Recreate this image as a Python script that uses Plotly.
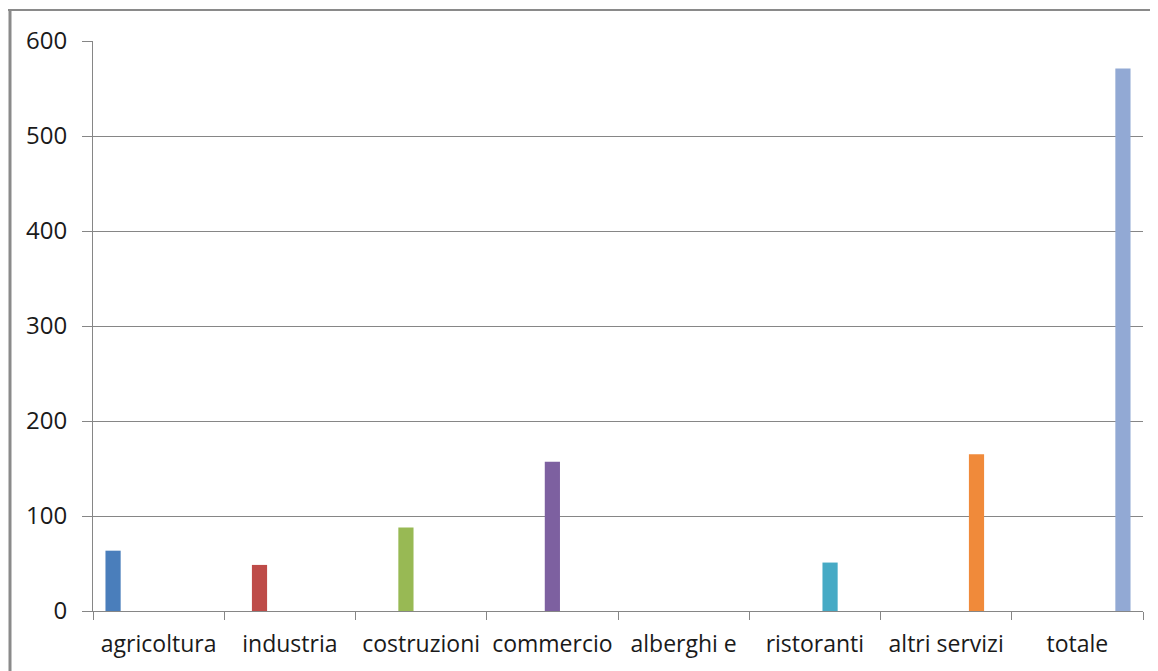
import plotly.graph_objects as go

categories = ["agricoltura", "industria", "costruzioni", "commercio",
              "alberghi e", "ristoranti", "altri servizi", "totale"]
series_names = ["agricoltura", "industria", "costruzioni", "commercio",
                "alberghi e ristoranti", "altri servizi", "totale"]
s_agricoltura = [63.5, None, None, None, None, None, None, None]
s_industria = [None, 48.5, None, None, None, None, None, None]
s_costruzioni = [None, None, 88, None, None, None, None, None]
s_commercio = [None, None, None, 157, None, None, None, None]
s_alberghi = [None, None, None, None, None, 51, None, None]
s_altri = [None, None, None, None, None, None, 165, None]
s_totale = [None, None, None, None, None, None, None, 571]
series_values = [s_agricoltura, s_industria, s_costruzioni, s_commercio,
                 s_alberghi, s_altri, s_totale]
colors = ["#4A7EBB", "#BE4B48", "#98B954", "#7D60A0", "#46AAC5", "#F08A3A", "#92A9D4"]
y_ticks = [0, 100, 200, 300, 400, 500, 600]

fig = go.Figure()
for name, vals, col in zip(series_names, series_values, colors):
    fig.add_trace(go.Bar(x=categories, y=vals, name=name, marker_color=col,
                         marker_line_width=0, showlegend=False))

# page body has an 8px margin; figure origin at (8, 8) in the window
OFF = 8
W, H = 1150, 663
L, R, T, B = 93 - OFF, 15, 41 - OFF, 60
pw, ph = W - L - R, H - T - B

def px(x):
    return (x - OFF - L) / pw

def py(y):
    return (H - B - (y - OFF)) / ph

fig.update_layout(
    width=W, height=H,
    margin=dict(l=L, r=R, t=T, b=B, pad=0),
    paper_bgcolor="white", plot_bgcolor="white",
    barmode="group", bargap=0.19, bargroupgap=0,
    font=dict(family="Open Sans", color="#1a1a1a"),
    xaxis=dict(type="category", showline=True, linecolor="#868686", linewidth=1,
               ticks="outside", tickson="boundaries", ticklen=8, tickcolor="#868686",
               tickfont=dict(size=23), ticklabelstandoff=12,
               showgrid=False, zeroline=False, fixedrange=True),
    yaxis=dict(range=[0, 600], tickvals=y_ticks, showline=True, linecolor="#868686",
               linewidth=1, ticks="outside", ticklen=10, tickcolor="#868686",
               showgrid=True, gridcolor="#868686", gridwidth=1, zeroline=False,
               tickfont=dict(size=24), ticklabelstandoff=10, fixedrange=True),
    shapes=[
        dict(type="line", xref="paper", yref="paper", x0=px(8), x1=px(1158),
             y0=py(10), y1=py(10), line=dict(color="#8a8a8a", width=2)),
        dict(type="line", xref="paper", yref="paper", x0=px(10), x1=px(10),
             y0=py(10), y1=py(671), line=dict(color="#8a8a8a", width=3)),
    ],
)

fig.write_html("out.html")
